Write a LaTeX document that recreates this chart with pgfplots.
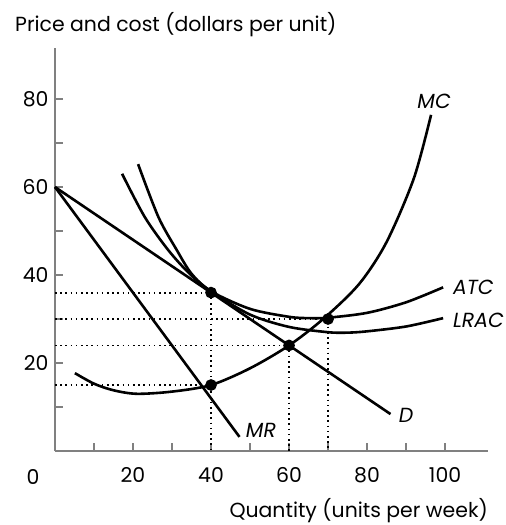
\documentclass[border=0pt]{standalone}
\usepackage{fontspec}
\setmainfont{Poppins}
\usepackage{pgfplots}
\pgfplotsset{compat=1.18}

\begin{document}
\begin{tikzpicture}[font=\fontsize{20.5}{24}\selectfont]
\begin{axis}[
    scale only axis,
    width=433bp, height=403bp,
    xmin=0, xmax=111, ymin=0, ymax=91.6,
    axis x line*=bottom, axis y line*=left,
    axis line style={gray, line width=1.4bp},
    xtick={10,20,...,100}, xticklabels={,20,,40,,60,,80,,100},
    ytick={10,20,...,80}, yticklabels={,20,,40,,60,,80},
    tick style={gray, line width=1.4bp},
    major tick length=8bp,
    tick align=inside,
    /pgf/number format/assume math mode=true,
    xticklabel style={yshift=-13bp},
    yticklabel style={xshift=-3bp},
    clip=false,
    every axis plot/.append style={line width=2.6bp, black},
    guide/.style={line width=1.8bp, dash pattern=on 1.6bp off 3.6bp},
  ]
  % dotted guides
  \addplot[guide] coordinates {(0,36) (40,36) (40,0)};
  \addplot[guide] coordinates {(0,30) (70,30) (70,0)};
  \addplot[guide] coordinates {(0,24) (60,24) (60,0)};
  \addplot[guide] coordinates {(0,15) (40,15)};
  % demand and marginal revenue
  \addplot[black] coordinates {(0,60) (86,8.4)};
  \addplot[black] coordinates {(0,60) (47.3,3.2)};
  % MC
  \addplot[smooth] coordinates {(5.1,17.7) (10,15.3) (15,13.8) (21,13) (30,13.5) (40,15) (50,18.8) (60,24) (69,30.2) (78,38) (85,47.5) (92,62) (96.4,76.4)};
  % ATC
  \addplot[smooth] coordinates {(21.3,65.2) (26.5,53.2) (31.2,45.7) (35,40.3) (40,36.3) (50,32.3) (60,30.5) (65,30.2) (70,30.3) (80,31.4) (90,33.8) (99.5,37.2)};
  % LRAC
  \addplot[smooth] coordinates {(17.2,63) (23,53.2) (29,45.7) (34.5,40.3) (40,36.3) (50,31) (60,28.2) (70,27) (75,26.9) (80,27.2) (90,28.3) (99.5,30.2)};
  % points
  \addplot[only marks, mark=*, mark size=4.5bp] coordinates {(40,36) (60,24) (70,30) (40,15)};
  % labels
  \node at (axis cs:97.2,79.4) {\itshape MC};
  \node[anchor=west, inner sep=0pt] at (axis cs:102,37.2) {\itshape ATC};
  \node[anchor=west, inner sep=0pt] at (axis cs:102,29.8) {\itshape LRAC};
  \node at (axis cs:90,8) {\itshape D};
  \node at (axis cs:52.8,4.8) {\itshape MR};
  \node at (axis cs:-5.6,-5.9) {0};
\end{axis}
\node[anchor=base west, inner sep=0pt] at (-40bp,419bp) {Price and cost (dollars per unit)};
\node[anchor=base east, inner sep=0pt] at (433bp,-66bp) {Quantity (units per week)};
\path[use as bounding box] (-55bp,-74bp) rectangle (451bp,451bp);
\end{tikzpicture}
\end{document}
